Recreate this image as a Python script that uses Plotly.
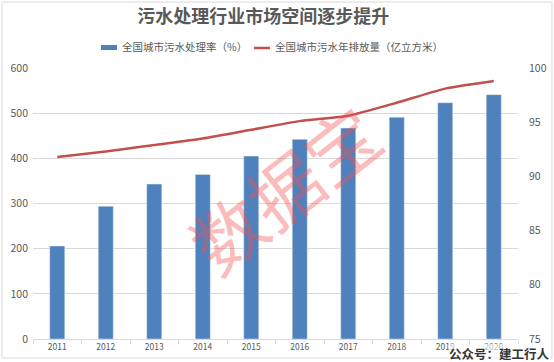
import plotly.graph_objects as go

years = ["2011", "2012", "2013", "2014", "2015", "2016", "2017", "2018", "2019", "2020"]
bar_values = [206, 294, 343, 364, 405, 442, 467, 491, 523, 541]
line_values = [91.8, 92.3, 92.9, 93.5, 94.3, 95.1, 95.6, 96.8, 98.1, 98.8]
bar_name = "全国城市污水处理率（%）"
line_name = "全国城市污水年排放量（亿立方米）"
title_text = "污水处理行业市场空间逐步提升"

BAR_COLOR = "#4f81bd"
LINE_COLOR = "#c0504d"
font_family = "Noto Sans CJK SC, Microsoft YaHei, sans-serif"

fig = go.Figure()
fig.add_trace(go.Bar(x=years, y=bar_values, name=bar_name, marker_color=BAR_COLOR,
                     width=0.31, yaxis="y"))
fig.add_trace(go.Scatter(x=years, y=line_values, name=line_name, mode="lines",
                         line=dict(color=LINE_COLOR, width=2.5, shape="spline", smoothing=0.5),
                         yaxis="y2"))

fig.update_layout(
    width=554, height=362,
    margin=dict(l=33, r=36, t=68, b=23, autoexpand=False),
    paper_bgcolor="white", plot_bgcolor="white",
    font=dict(family=font_family, color="#595959", size=10),
    title=dict(text="<b>" + title_text + "</b>", x=0.475, xanchor="center", y=0.955, yanchor="middle",
               font=dict(size=18, color="#595959", family=font_family)),
    showlegend=False,
    xaxis=dict(type="category", showline=True, linecolor="#d9d9d9", linewidth=1,
               ticks="outside", tickson="boundaries", ticklen=4, tickcolor="#d9d9d9",
               tickfont=dict(size=8.5, color="#595959"), showgrid=False),
    yaxis=dict(range=[0, 600], dtick=100, showgrid=True, gridcolor="#d9d9d9", gridwidth=1,
               zeroline=False, tickfont=dict(size=10.5, color="#595959"), ticks="",
               ticklabelstandoff=4),
    yaxis2=dict(range=[75, 100], dtick=5, overlaying="y", side="right", showgrid=False,
                zeroline=False, tickfont=dict(size=10.5, color="#595959"),
                ticklabelstandoff=10),
)

# legend drawn manually
fig.add_shape(type="rect", xref="paper", yref="paper", x0=0.1402, x1=0.1732, y0=1.0664, y1=1.0849,
              fillcolor=BAR_COLOR, line=dict(width=0))
fig.add_annotation(text=bar_name, xref="paper", yref="paper", x=0.1794, xanchor="left",
                   y=1.0775, yanchor="middle", showarrow=False,
                   font=dict(size=10.5, color="#595959", family=font_family))
fig.add_shape(type="line", xref="paper", yref="paper", x0=0.4557, x1=0.4887, y0=1.0738, y1=1.0738,
              line=dict(color=LINE_COLOR, width=2.5))
fig.add_annotation(text=line_name, xref="paper", yref="paper", x=0.4948, xanchor="left",
                   y=1.0775, yanchor="middle", showarrow=False,
                   font=dict(size=10.5, color="#595959", family=font_family))

fig.add_annotation(text="数据宝", xref="paper", yref="paper", x=0.515, y=0.56,
                   showarrow=False, textangle=-38,
                   font=dict(size=72, color="rgba(245,80,80,0.38)", family=font_family))
fig.add_annotation(text="<b>公众号：建工行人</b>", xref="paper", yref="paper",
                   x=1.068, xanchor="right", y=-0.052, yanchor="middle", showarrow=False,
                   bgcolor="rgba(255,255,255,0.6)", borderpad=0,
                   font=dict(size=12.5, color="#333333", family=font_family))
fig.add_shape(type="rect", xref="paper", yref="paper", x0=-0.0639, x1=1.07, y0=-0.0701, y1=1.2435,
              line=dict(color="#d9d9d9", width=1))

fig.write_html("out.html", config={"displayModeBar": False},
               post_script="document.body.style.margin='0';")
